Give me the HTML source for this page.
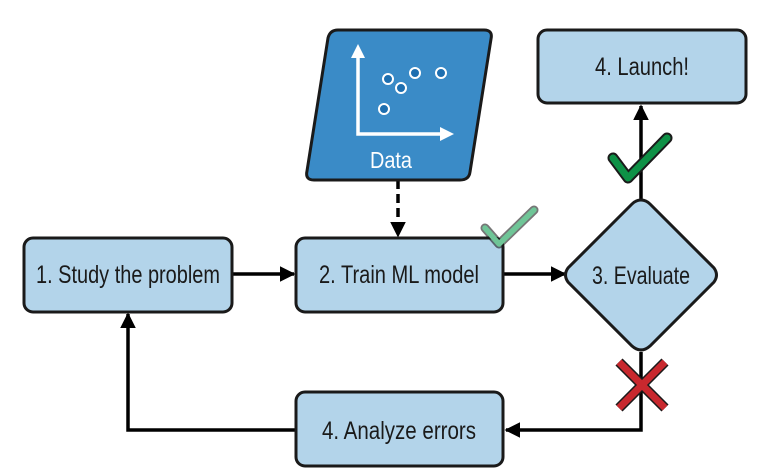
<!DOCTYPE html>
<html><head><meta charset="utf-8"><style>html,body{margin:0;padding:0;background:#fff}svg{display:block}</style></head>
<body>
<svg width="757" height="473" viewBox="0 0 757 473" xmlns="http://www.w3.org/2000/svg" font-family="'Liberation Sans Narrow','Liberation Sans',sans-serif">
<defs>
<marker id="a" viewBox="0 0 10 10" refX="9" refY="5" markerWidth="4.5" markerHeight="4.5" orient="auto"><path d="M0,0 L10,5 L0,10 z" fill="#000"/></marker>
</defs>
<g stroke="#000" stroke-width="3.5" fill="none">
<line x1="232" y1="274" x2="294" y2="274" marker-end="url(#a)"/>
<line x1="503" y1="274" x2="565" y2="274" marker-end="url(#a)"/>
<line x1="641" y1="200" x2="641" y2="106" marker-end="url(#a)"/>
<polyline points="641,352 641,430 506,430" marker-end="url(#a)"/>
<polyline points="296,430 128,430 128,314" marker-end="url(#a)"/>
<line x1="398" y1="180" x2="398" y2="236" stroke-dasharray="9,5" marker-end="url(#a)"/>
</g>
<g fill="#b3d4ea" stroke="#1a1a1a" stroke-width="3">
<rect x="24" y="238" width="208" height="74" rx="9"/>
<rect x="296" y="238" width="207" height="74" rx="9"/>
<rect x="296" y="392" width="207" height="74" rx="9"/>
<rect x="538" y="30" width="208" height="73" rx="9"/>
<path d="M641,200 Q646,200 650,204 L714,268 Q719,275 714,282 L650,346 Q641,354 632,346 L568,282 Q563,275 568,268 L632,204 Q636,200 641,200 z"/>
</g>
<path d="M338,30 L484,30 Q493,30 491,39 L470,172 Q469,180 460,180 L314,180 Q305,180 307,171 L328,38 Q330,30 338,30 z" fill="#3a8bc7" stroke="#1a1a1a" stroke-width="3"/>
<g stroke="#fff" stroke-width="3.5" fill="none">
<polyline points="358,52 358,134 444,134"/>
</g>
<path d="M351,58 L358,44 L365,58 z M440,127 L454,134 L440,141 z" fill="#fff"/>
<g fill="#1e6fb0" stroke="#fff" stroke-width="2">
<circle cx="388" cy="79" r="5"/><circle cx="401" cy="88" r="5"/><circle cx="415" cy="73" r="5"/><circle cx="441" cy="73" r="5"/><circle cx="384" cy="109" r="5"/>
</g>
<text x="391" y="168" fill="#fff" font-size="23" text-anchor="middle" textLength="42" lengthAdjust="spacingAndGlyphs">Data</text>
<g font-size="25" fill="#1a1a1a" text-anchor="middle">
<text x="128" y="283" textLength="184" lengthAdjust="spacingAndGlyphs">1. Study the problem</text>
<text x="399" y="283" textLength="160" lengthAdjust="spacingAndGlyphs">2. Train ML model</text>
<text x="399" y="439" textLength="154" lengthAdjust="spacingAndGlyphs">4. Analyze errors</text>
<text x="642" y="75" textLength="94" lengthAdjust="spacingAndGlyphs">4. Launch!</text>
<text x="641" y="284" textLength="98" lengthAdjust="spacingAndGlyphs">3. Evaluate</text>
</g>
<path d="M613,158 L628,178 L667,138" fill="none" stroke="#1a1a1a" stroke-width="11" stroke-linejoin="round" stroke-linecap="round"/>
<path d="M613,158 L628,178 L667,138" fill="none" stroke="#0e9146" stroke-width="7" stroke-linejoin="round" stroke-linecap="round"/>
<path d="M485,228 L499,244 L534,210" fill="none" stroke="#1a1a1a" stroke-width="9" stroke-linejoin="round" stroke-linecap="round" opacity="0.6"/>
<path d="M485,228 L499,244 L534,210" fill="none" stroke="#6fc597" stroke-width="5.5" stroke-linejoin="round" stroke-linecap="round"/>
<g stroke-linecap="butt">
<path d="M619,362 L665,408 M665,362 L619,408" stroke="#1a1a1a" stroke-width="10"/>
<path d="M619,362 L665,408 M665,362 L619,408" stroke="#c8282e" stroke-width="7"/>
</g>
</svg>
</body></html>
